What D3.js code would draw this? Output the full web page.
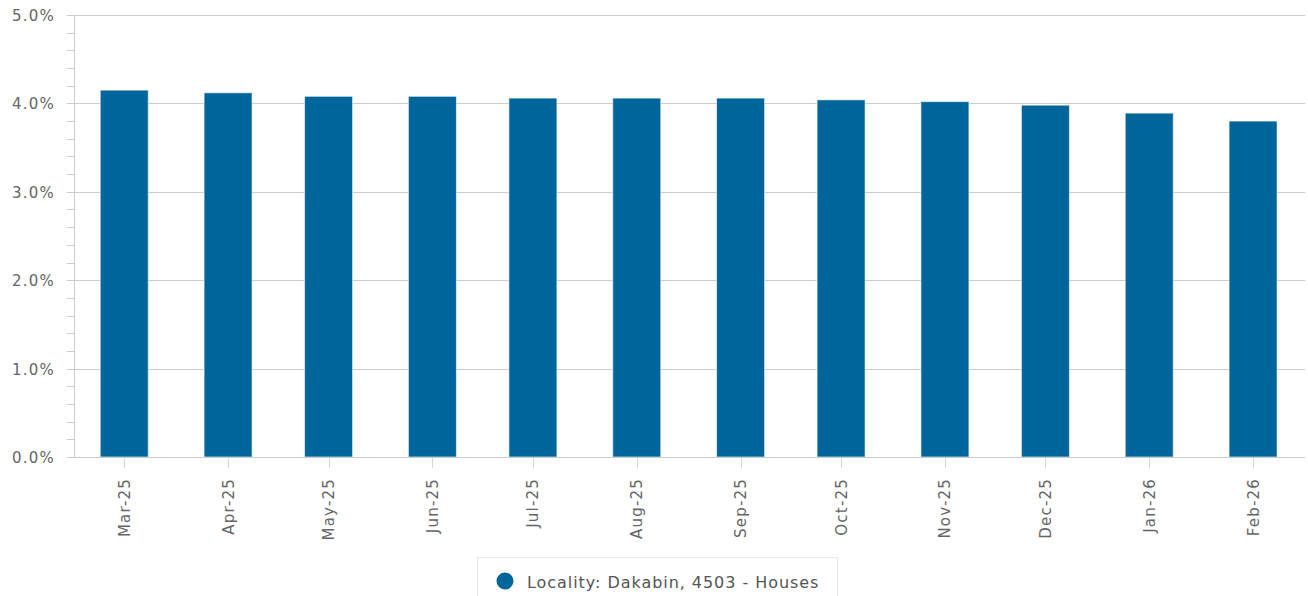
<!DOCTYPE html>
<html><head><meta charset="utf-8">
<script src="https://cdn.jsdelivr.net/npm/d3@7"></script>
<style>body{margin:0;background:#fff;font-family:"DejaVu Sans",Verdana,sans-serif;}</style>
</head><body><svg id="c" width="1308" height="596"></svg>
<script>
const months = ["2025-03","2025-04","2025-05","2025-06","2025-07","2025-08","2025-09","2025-10","2025-11","2025-12","2026-01","2026-02"];
const tickLabels = ["Mar-25","Apr-25","May-25","Jun-25","Jul-25","Aug-25","Sep-25","Oct-25","Nov-25","Dec-25","Jan-26","Feb-26"];
const values = [4.15, 4.12, 4.08, 4.08, 4.06, 4.06, 4.06, 4.04, 4.02, 3.98, 3.89, 3.80];
const yTicks = [0,1,2,3,4,5];
const seriesName = "Locality: Dakabin, 4503 - Houses";

const svg = d3.select("#c");
const L = 74, R = 1305, T = 15, B = 457;
const parse = d3.timeParse("%Y-%m");
const dates = months.map(parse);
const x = d3.scaleTime()
  .domain([d3.timeDay.offset(dates[0], -15), d3.timeHour.offset(dates[dates.length-1], 15.5*24)])
  .range([L, R]);
const y = d3.scaleLinear().domain([0,5]).range([B, T]);

// grid
svg.append("g").selectAll("line").data(yTicks).join("line")
  .attr("x1", L).attr("x2", R).attr("y1", d=>Math.round(y(d))+0.5).attr("y2", d=>Math.round(y(d))+0.5)
  .attr("stroke", "#cccccc").attr("stroke-width", 1);

// minor ticks
const minor = d3.range(0, 5.0001, 0.2);
svg.append("g").selectAll("line").data(minor).join("line")
  .attr("x1", L-7).attr("x2", L).attr("y1", d=>Math.round(y(d))+0.5).attr("y2", d=>Math.round(y(d))+0.5)
  .attr("stroke", "#cccccc");

// left axis line
svg.append("line").attr("x1", L+0.5).attr("x2", L+0.5).attr("y1", T).attr("y2", B)
  .attr("stroke", "#cccccc");

// y labels
svg.append("g").selectAll("text").data(yTicks).join("text")
  .attr("x", 55).attr("y", d=>y(d)+6).attr("text-anchor","end")
  .attr("fill","#666666").attr("font-size", 15).attr("letter-spacing", 1.2)
  .text(d=>d.toFixed(1)+"%");

// bars
const bw = 48;
svg.append("g").selectAll("rect").data(values).join("rect")
  .attr("x", (d,i)=>x(dates[i]) - bw/2).attr("width", bw)
  .attr("y", d=>y(d)).attr("height", d=>B - y(d))
  .attr("fill", "#00659a").attr("stroke","#ffffff").attr("stroke-opacity",0.6).attr("stroke-width",1);

// x axis line
svg.append("line").attr("x1", L).attr("x2", R).attr("y1", B+0.5).attr("y2", B+0.5)
  .attr("stroke", "#cccccc");

// x ticks
svg.append("g").selectAll("line").data(dates).join("line")
  .attr("x1", d=>Math.round(x(d))+0.5).attr("x2", d=>Math.round(x(d))+0.5)
  .attr("y1", B+1).attr("y2", B+11).attr("stroke", "#ccd6eb");

// x labels
svg.append("g").selectAll("text").data(dates).join("text")
  .attr("transform", d=>`translate(${x(d)+5.5},${B+21}) rotate(-90)`)
  .attr("text-anchor","end").attr("fill","#666666").attr("font-size", 15).attr("letter-spacing", 1.2)
  .text((d,i)=>tickLabels[i]);

// legend
const lg = svg.append("g");
lg.append("rect").attr("x", 477.5).attr("y", 557.5).attr("width", 360).attr("height", 50)
  .attr("fill","#fff").attr("stroke","#e6e6e6");
lg.append("circle").attr("cx", 505).attr("cy", 581).attr("r", 8.5).attr("fill","#00659a");
lg.append("text").attr("x", 527).attr("y", 588).attr("fill","#555555").attr("font-size", 16).attr("letter-spacing", 0.95)
  .text(seriesName);
</script></body></html>
